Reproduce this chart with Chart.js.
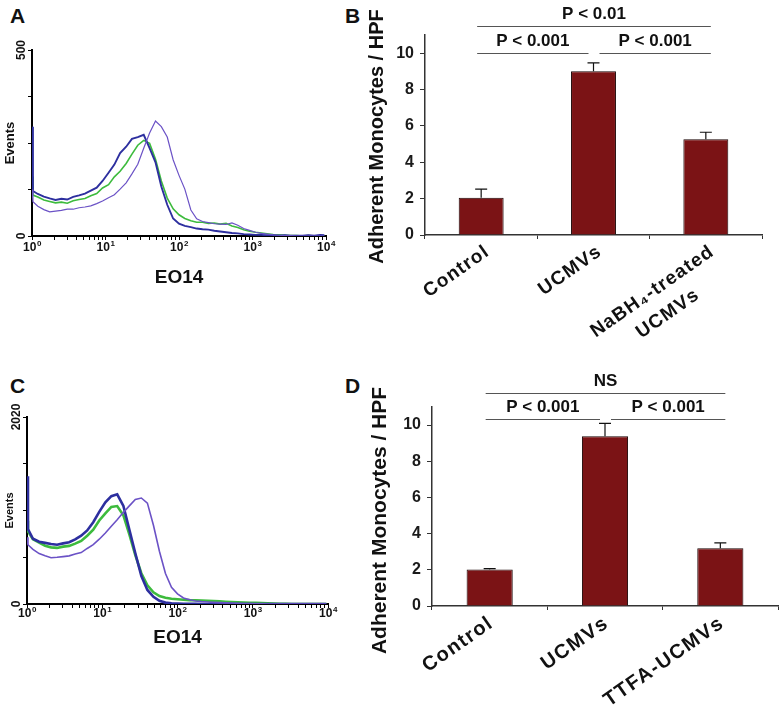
<!DOCTYPE html>
<html>
<head>
<meta charset="utf-8">
<script src="https://cdn.jsdelivr.net/npm/chart.js@4.4.1/dist/chart.umd.min.js"></script>
<style>
  body { margin: 0; background: #fff; width: 783px; height: 710px; position: relative; overflow: hidden; font-family: "Liberation Sans", Arial, sans-serif; }
  canvas { position: absolute; }
  .tag { position: absolute; font-weight: bold; font-size: 21px; line-height: 1; color: #111; }
</style>
</head>
<body>
<div class="tag" style="left:10px; top:5px">A</div>
<div class="tag" style="left:345px; top:5px">B</div>
<div class="tag" style="left:10px; top:375px">C</div>
<div class="tag" style="left:345px; top:375px">D</div>

<canvas id="histA" width="360" height="270" style="left:0; top:30px"></canvas>
<canvas id="barsB" width="423" height="360" style="left:360px; top:0"></canvas>
<canvas id="histC" width="360" height="290" style="left:0; top:380px"></canvas>
<canvas id="barsD" width="423" height="350" style="left:360px; top:360px"></canvas>

<script>
// EO14 fluorescence channels (log axis)
const fluorBins = [1, 1.03, 1.2, 1.45, 1.74, 2.09, 2.51, 3.02, 3.63, 4.37, 5.25, 6.31, 7.59, 9.12, 11.0, 13.2,
  15.8, 19.1, 22.9, 27.5, 33.1, 39.8, 47.9, 57.5, 69.2, 83.2, 100, 120, 145, 174, 209, 251, 302, 363, 437,
  525, 631, 759, 912, 1100, 1320, 1580, 1910, 2290, 2750, 3310, 3980, 4790, 5750, 6920, 8320, 9500];
const decadeExponents = ['0', '1', '2', '3', '4'];

// panel A events
const eventsA_blue = [294, 121, 113, 106, 101, 97, 100, 98, 105, 109, 114, 122, 130, 148, 170, 192, 223, 240, 261, 266,
  272, 236, 198, 133, 84, 47, 33, 27, 24, 20, 18, 17, 14, 12, 10, 8, 7, 5, 4, 3, 3, 2, 2, 1, 2, 1, 1, 1, 2, 1, 3, 2];
const eventsA_green = [160, 110, 105, 97, 93, 89, 91, 88, 95, 98, 101, 108, 114, 129, 138, 159, 174, 195, 220, 244,
  257, 249, 206, 148, 102, 73, 57, 47, 41, 37, 37, 34, 35, 32, 34, 27, 23, 17, 13, 10, 8, 6, 4, 3, 2, 1, 1, 0, 1, 0, 0, 0];
const eventsA_purple = [125, 92, 80, 71, 65, 67, 69, 72, 72, 76, 78, 81, 87, 94, 103, 111, 126, 143, 167, 193,
  236, 277, 309, 294, 266, 205, 163, 126, 70, 46, 39, 36, 33, 32, 31, 35, 29, 20, 15, 10, 7, 5, 3, 2, 1, 1, 0, 0, 0, 0, 0, 0];

// panel C events
const eventsC_blue = [1380, 810, 705, 672, 660, 648, 640, 655, 668, 698, 738, 795, 884, 995, 1098, 1165, 1185, 1060, 805, 548,
  302, 152, 78, 34, 15, 7, 4, 2, 1, 1, 0, 0, 0, 0, 0, 0, 0, 0, 0, 0, 0, 0, 0, 0, 0, 0, 0, 0, 0, 0, 0, 0];
const eventsC_green = [900, 785, 700, 662, 630, 612, 606, 620, 628, 652, 682, 738, 802, 902, 978, 1048, 1058, 958, 752, 528,
  332, 202, 126, 86, 68, 57, 51, 46, 42, 40, 38, 35, 32, 28, 25, 22, 19, 16, 14, 12, 11, 8, 5, 3, 1, 0, 0, 0, 0, 0, 0, 0];
const eventsC_purple = [720, 640, 590, 545, 520, 500, 505, 512, 520, 540, 555, 600, 641, 700, 767, 840, 911, 990, 1060, 1130,
  1145, 1090, 850, 570, 330, 180, 110, 65, 45, 32, 26, 22, 18, 15, 12, 10, 8, 6, 4, 2, 1, 0, 0, 0, 0, 0, 0, 0, 0, 0, 0, 0];

// panel B
const groupsB = ['Control', 'UCMVs', ['NaBH₄-treated', 'UCMVs']];
const monocytesB = [2.05, 9.0, 5.27];
const errorB = [0.47, 0.47, 0.38];
const compareB = [[0, 1, 'P < 0.001'], [1, 2, 'P < 0.001'], [0, 2, 'P < 0.01']];

// panel D
const groupsD = ['Control', 'UCMVs', 'TTFA-UCMVs'];
const monocytesD = [2.02, 9.38, 3.19];
const errorD = [0.05, 0.72, 0.3];
const compareD = [[0, 1, 'P < 0.001'], [1, 2, 'P < 0.001'], [0, 2, 'NS']];

const yTitle = 'Adherent Monocytes / HPF';

Chart.defaults.font.family = '"Liberation Sans", Arial, sans-serif';
Chart.defaults.color = '#111';

const FONT = '"Liberation Sans", Arial, sans-serif';
const BLUE = '#2d2f9f', GREEN = '#3dbb3d', PURPLE = '#6b52c6', BAR = '#7b1315';

// rotated "max" and "0" labels on the histogram y axis, 10^n labels on x
const histLabels = {
    id: 'histLabels',
    afterDraw(chart, args, opts) {
        const ctx = chart.ctx, x = chart.scales.x, y = chart.scales.y;
        ctx.save();
        ctx.fillStyle = '#111';
        ctx.font = 'bold 12px ' + FONT;
        ctx.textAlign = 'center';
        ctx.textBaseline = 'middle';
        [y.min, y.max].forEach(v => {
            ctx.save();
            ctx.translate(opts.x, y.getPixelForValue(v));
            ctx.rotate(-Math.PI / 2);
            ctx.fillText(String(v), 0, 0);
            ctx.restore();
        });
        ctx.textAlign = 'left';
        decadeExponents.forEach((e, i) => {
            const px = x.getPixelForValue(Math.pow(10, i));
            ctx.font = 'bold 12px ' + FONT;
            const wb = ctx.measureText('10').width;
            ctx.font = 'bold 8px ' + FONT;
            const we = ctx.measureText(e).width;
            const left = px - (wb + we) / 2;
            ctx.font = 'bold 12px ' + FONT;
            ctx.fillText('10', left, x.top + opts.dy);
            ctx.font = 'bold 8px ' + FONT;
            ctx.fillText(e, left + wb + 0.5, x.top + opts.dy - 4);
        });
        ctx.restore();
    }
};

function makeHistogram(id, series, yMax, o) {
    new Chart(document.getElementById(id), {
        type: 'line',
        data: {
            datasets: series.map(s => ({
                data: fluorBins.map((x, i) => ({ x: x, y: s.values[i] })),
                borderColor: s.color,
                borderWidth: s.width,
                pointRadius: 0,
                tension: 0,
                fill: false
            }))
        },
        options: {
            responsive: false,
            animation: false,
            layout: { padding: { top: o.top, right: o.right, left: 0, bottom: 0 } },
            plugins: { legend: { display: false }, tooltip: { enabled: false }, histLabels: { x: o.labelX, dy: o.tickDy } },
            scales: {
                x: {
                    type: 'logarithmic', min: 1, max: 10000,
                    afterBuildTicks: sc => {
                        // drop the 1.5, 15, 150 ... steps
                        sc.ticks = sc.ticks.filter(t => {
                            const m = t.value / Math.pow(10, Math.floor(Math.log10(t.value) + 1e-9));
                            return Math.abs(m - 1.5) > 0.01;
                        });
                    },
                    afterFit: sc => { sc.height = o.xHeight; },
                    border: { color: '#000', width: 2 },
                    grid: { drawOnChartArea: false, color: '#000', tickLength: 4 },
                    ticks: { autoSkip: false, maxRotation: 0, padding: 1, callback: () => '' },
                    title: { display: true, text: 'EO14', font: { size: 19, weight: 'bold' }, padding: { top: 0, bottom: o.titlePad } }
                },
                y: {
                    min: 0, max: yMax,
                    afterFit: sc => { sc.width = o.yWidth; },
                    border: { color: '#000', width: 2 },
                    grid: { drawOnChartArea: false, color: '#000', tickLength: 4 },
                    ticks: { stepSize: yMax / 4, callback: () => '', padding: 0 },
                    title: { display: true, text: 'Events', font: { size: o.evSize, weight: 'bold' }, padding: { top: o.evPad, bottom: 0 } }
                }
            }
        },
        plugins: [histLabels]
    });
}

// error bars, labels and p-value brackets for the bar panels
const errorBars = {
    id: 'errorBars',
    afterDatasetsDraw(chart) {
        const ctx = chart.ctx, y = chart.scales.y;
        const ds = chart.data.datasets[0];
        ctx.save();
        ctx.strokeStyle = '#111';
        ctx.lineWidth = 1.2;
        chart.getDatasetMeta(0).data.forEach((bar, i) => {
            const top = y.getPixelForValue(ds.data[i] + ds.errors[i]);
            ctx.beginPath();
            ctx.moveTo(bar.x, bar.y);
            ctx.lineTo(bar.x, top);
            ctx.moveTo(bar.x - 6, top);
            ctx.lineTo(bar.x + 6, top);
            ctx.stroke();
        });
        ctx.restore();
    }
};

const barText = {
    id: 'barText',
    afterDraw(chart, args, opts) {
        const ctx = chart.ctx, xs = chart.scales.x;
        ctx.save();
        ctx.fillStyle = '#111';
        // y axis title
        ctx.save();
        ctx.font = 'bold ' + opts.titleSize + 'px ' + FONT;
        ctx.textAlign = 'center';
        ctx.textBaseline = 'middle';
        ctx.translate(opts.titleX, opts.titleY);
        ctx.rotate(-Math.PI / 2);
        ctx.fillText(yTitle, 0, 0);
        ctx.restore();
        // category labels
        ctx.font = 'bold ' + opts.labelSize + 'px ' + FONT;
        ctx.letterSpacing = opts.spacing + 'px';
        ctx.textAlign = 'center';
        ctx.textBaseline = 'top';
        chart.data.labels.forEach((lab, i) => {
            const lines = [].concat(lab);
            ctx.save();
            ctx.translate(xs.getPixelForValue(i) + opts.dx, xs.top + opts.dy);
            ctx.rotate(-35 * Math.PI / 180);
            const w0 = ctx.measureText(lines[0]).width;
            lines.forEach((t, k) => ctx.fillText(t, -w0 / 2, k * 27));
            ctx.restore();
        });
        ctx.restore();
    }
};

function bracketPlugin(list, lowLevel, highLevel) {
    return {
        id: 'brackets',
        afterDraw(chart) {
            const ctx = chart.ctx, xs = chart.scales.x, y = chart.scales.y;
            ctx.save();
            ctx.strokeStyle = '#555';
            ctx.lineWidth = 1;
            ctx.font = 'bold 17px ' + FONT;
            ctx.fillStyle = '#111';
            ctx.textAlign = 'center';
            ctx.textBaseline = 'middle';
            list.forEach(([a, b, text]) => {
                const x0 = xs.getPixelForValue(a) + (a === 1 ? 6 : -4);
                const x1 = xs.getPixelForValue(b) + (b === 1 ? -5 : 5);
                const yy = Math.round(y.getPixelForValue(b - a > 1 ? highLevel : lowLevel)) + 0.5;
                ctx.beginPath();
                ctx.moveTo(x0, yy);
                ctx.lineTo(x1, yy);
                ctx.stroke();
                ctx.fillText(text, (x0 + x1) / 2, yy - 12);
            });
            ctx.restore();
        }
    };
}

function makeBars(id, labels, values, errors, compare, o) {
    new Chart(document.getElementById(id), {
        type: 'bar',
        data: {
            labels: labels,
            datasets: [{
                data: values,
                errors: errors,
                backgroundColor: BAR,
                borderColor: '#1a0505',
                borderWidth: 1,
                barPercentage: 0.4,
                categoryPercentage: 1
            }]
        },
        options: {
            responsive: false,
            animation: false,
            layout: { padding: { top: o.top, right: o.right, left: 0, bottom: 0 } },
            plugins: { legend: { display: false }, tooltip: { enabled: false }, barText: o.text },
            scales: {
                x: {
                    afterFit: sc => { sc.height = o.xHeight; },
                    border: { color: '#333', width: 1.5 },
                    grid: { drawOnChartArea: false, color: '#333', tickLength: 4 },
                    ticks: { display: false }
                },
                y: {
                    min: 0, max: 11,
                    afterFit: sc => { sc.width = o.yWidth; },
                    border: { color: '#333', width: 1.5 },
                    grid: { drawOnChartArea: false, color: '#333', tickLength: 5 },
                    ticks: { stepSize: 1, padding: 6, color: '#1a1a1a', font: { size: 16, weight: 'bold' },
                             callback: v => (v % 2 === 0 ? v : '') }
                }
            }
        },
        plugins: [errorBars, barText, bracketPlugin(compare, o.low, o.high)]
    });
}

makeHistogram('histA', [
    { values: eventsA_purple, color: PURPLE, width: 1.2 },
    { values: eventsA_blue, color: BLUE, width: 1.9 },
    { values: eventsA_green, color: GREEN, width: 1.6 }
], 500, { top: 20, right: 34, yWidth: 32, xHeight: 64, titlePad: 11, labelX: 22, evSize: 13, evPad: 3, tickDy: 12 });

makeHistogram('histC', [
    { values: eventsC_purple, color: PURPLE, width: 1.6 },
    { values: eventsC_blue, color: BLUE, width: 2.6 },
    { values: eventsC_green, color: GREEN, width: 2.6 }
], 2020, { top: 37, right: 32, yWidth: 27, xHeight: 66, titlePad: 21, labelX: 17, evSize: 11, evPad: 3, tickDy: 10 });

makeBars('barsB', groupsB, monocytesB, errorB, compareB, {
    top: 35, right: 21, yWidth: 65, xHeight: 125, low: 10.0, high: 11.5,
    text: { titleX: 17.5, titleY: 136.5, titleSize: 20, labelSize: 19, spacing: 1.2, dx: 1, dy: 7 }
});

makeBars('barsD', groupsD, monocytesD, errorD, compareD, {
    top: 47, right: 5, yWidth: 72, xHeight: 104, low: 10.33, high: 11.78,
    text: { titleX: 20, titleY: 160.5, titleSize: 21, labelSize: 20, spacing: 1.5, dx: -4, dy: 7 }
});
</script>
</body>
</html>
